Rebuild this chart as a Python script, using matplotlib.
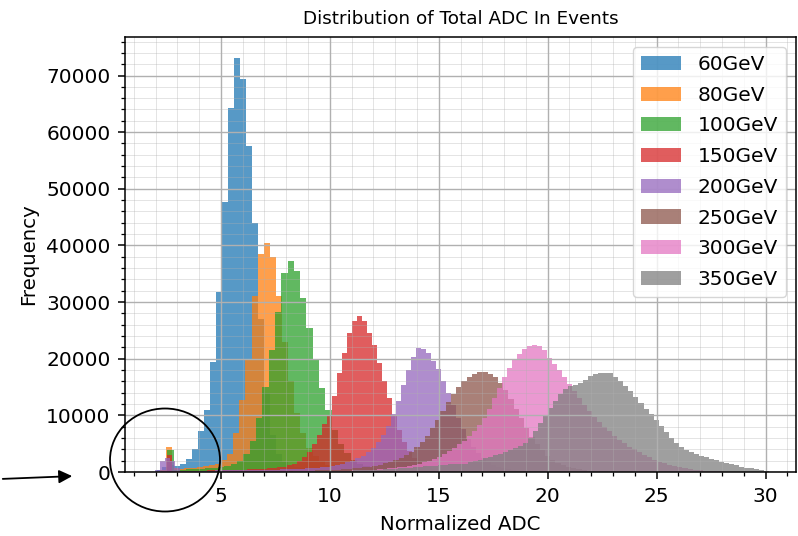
import matplotlib
matplotlib.use("Agg")
import matplotlib.pyplot as plt
from matplotlib.patches import Ellipse
import numpy as np

# Binned event counts of normalized total ADC per beam energy.
# Each series: first bin edge, bin width, counts per bin.
labels = ["60GeV", "80GeV", "100GeV", "150GeV", "200GeV", "250GeV", "300GeV", "350GeV"]

start_60, width_60 = 2.045, 0.275
counts_60 = [400, 900, 1300, 1100, 1500, 2300, 4000, 7300, 11000, 19400, 31700, 47600,
             64300, 73100, 69300, 57500, 43900, 27000, 14000, 6500, 3200, 1800, 1200, 900,
             700, 550, 450, 350, 280, 220, 170, 130, 100, 80, 60, 40]

start_80, width_80 = 2.21, 0.28
counts_80 = [300, 4500, 700, 600, 650, 750, 850, 1000, 1200, 1500, 2100, 3200, 6900, 12800,
             19800, 31000, 38400, 40400, 38000, 31000, 23000, 16000, 10500, 6800, 4300, 2800,
             1900, 1300, 950, 700, 520, 400, 300, 220, 160, 110, 80]

start_100, width_100 = 2.26, 0.29
counts_100 = [200, 3800, 400, 400, 450, 500, 550, 650, 750, 900, 1100, 1400, 2000, 3200, 5500,
              9500, 15000, 21500, 28200, 35200, 37300, 35500, 30800, 25500, 19800, 14900, 11000,
              7500, 5000, 3300, 2200, 1500, 1000, 700, 500, 350, 250, 170, 120, 80]

start_150, width_150 = 2.28, 0.23
counts_150 = [150, 3000, 250, 200, 200, 220, 230, 250, 260, 280, 300, 320, 340, 360, 380, 400,
              430, 460, 500, 540, 590, 650, 720, 800, 950, 1150, 1450, 1900, 2600, 3600, 4900,
              6500, 8400, 10000, 13500, 17500, 21000, 24600, 26600, 27500, 26600, 24600, 22400,
              19300, 16000, 13000, 10000, 7500, 5300, 3700, 2500, 1700, 1150, 800, 550, 380,
              260, 180, 120, 80]

start_200, width_200 = 1.98, 0.23
counts_200 = [400, 1900, 2400, 1900, 700, 230, 230, 240, 240, 250, 250, 260, 270, 280, 290, 300,
              310, 320, 330, 340, 360, 380, 400, 420, 440, 470, 500, 530, 570, 610, 660, 720,
              790, 870, 970, 1100, 1250, 1450, 1700, 2000, 2400, 2900, 3500, 4300, 5300, 6600,
              8200, 10200, 12600, 15300, 18000, 20300, 21900, 21700, 21000, 19600, 18100, 16000,
              14000, 11800, 9600, 7600, 5900, 4500, 3400, 2500, 1800, 1300, 950, 700, 500, 350,
              250, 170, 120]

start_250, width_250 = 8.12, 0.24
counts_250 = [150, 170, 190, 210, 240, 270, 300, 340, 380, 430, 490, 560, 640, 730, 840, 970,
              1120, 1300, 1520, 1780, 2100, 2500, 3000, 3600, 4400, 5300, 6400, 7700, 9200, 10800,
              12400, 13700, 15000, 16000, 16700, 17300, 17600, 17600, 17300, 16800, 15800, 14500,
              12900, 11200, 9500, 7800, 6200, 4900, 3800, 2900, 2200, 1600, 1200, 900, 650, 480,
              350, 250, 180, 130, 90]

start_300, width_300 = 9.86, 0.23
counts_300 = [150, 170, 190, 210, 240, 270, 300, 340, 380, 430, 490, 560, 640, 730, 840, 960,
              1100, 1270, 1470, 1700, 1980, 2300, 2700, 3150, 3700, 4300, 5000, 5500, 6300, 7200,
              8300, 9600, 11200, 13000, 14900, 16800, 18400, 19800, 20900, 21700, 22300, 22500,
              22300, 21600, 20200, 19000, 18000, 16800, 15500, 14300, 13000, 11800, 10700, 9700,
              8800, 8000, 7200, 6400, 5700, 5100, 4500, 4000, 3500, 3000, 2600, 2200, 1850, 1550,
              1300, 1050, 850, 700, 550, 430, 330, 250, 180, 130, 90]

start_350, width_350 = 8.30, 0.23
counts_350 = [100, 110, 120, 130, 140, 150, 165, 180, 195, 210, 230, 250, 275, 300, 330, 360,
              400, 440, 490, 540, 600, 660, 720, 790, 860, 930, 1000, 1070, 1140, 1210, 1280,
              1340, 1400, 1450, 1500, 1700, 1950, 2200, 2450, 2700, 2950, 3200, 3500, 3800, 4150,
              4600, 5200, 6000, 7300, 8700, 10000, 11300, 12600, 13800, 14600, 15100, 15400,
              15800, 16300, 16900, 17300, 17500, 17500, 17400, 16800, 16000, 15200, 14300, 13300,
              12200, 11200, 10200, 9200, 8100, 7000, 6000, 5100, 4400, 3900, 3500, 3150, 2850,
              2600, 2350, 2100, 1850, 1600, 1380, 1170, 970, 790, 620, 460, 310, 170]

series = [
    (start_60, width_60, counts_60),
    (start_80, width_80, counts_80),
    (start_100, width_100, counts_100),
    (start_150, width_150, counts_150),
    (start_200, width_200, counts_200),
    (start_250, width_250, counts_250),
    (start_300, width_300, counts_300),
    (start_350, width_350, counts_350),
]

plt.rcParams["font.size"] = 14.5
plt.rcParams["axes.linewidth"] = 1.1

fig = plt.figure(figsize=(7.98, 5.36), dpi=100)
ax = fig.add_axes([125 / 798, 64 / 536, 671 / 798, 435 / 536])

for label, (start, width, counts) in zip(labels, series):
    counts = np.asarray(counts, dtype=float)
    edges = start + width * np.arange(len(counts) + 1)
    ax.hist(edges[:-1] + width / 2, bins=edges, weights=counts, alpha=0.75, label=label)

ax.set_xlim(0.6, 31.4)
ax.set_ylim(0, 76800)
ax.minorticks_on()
ax.tick_params(which="major", length=5, width=1.1, pad=5.5)
ax.tick_params(which="minor", length=2.8, width=0.9)
ax.grid(True, which="major", color="#b0b0b0", linewidth=1.0)
ax.grid(True, which="minor", color="#b0b0b0", linewidth=0.7, alpha=0.35)

ax.set_title("Distribution of Total ADC In Events", fontsize=13.2, pad=9)
ax.set_xlabel("Normalized ADC", fontsize=14.2, labelpad=7)
ax.set_ylabel("Frequency", fontsize=14.2, labelpad=6)
ax.legend(loc="upper right", fontsize=14.5, labelspacing=0.58)

# hand-drawn style highlight of the low-ADC spike
fig.add_artist(Ellipse((165 / 798, 1 - 460 / 536), 110 / 798, 103 / 536,
                       transform=fig.transFigure, fill=False, ec="black", lw=1.3))
ax.annotate("", xy=(75, 536 - 476), xytext=(0, 536 - 479),
            xycoords="figure pixels", textcoords="figure pixels",
            arrowprops=dict(arrowstyle="-|>", color="black", lw=1.3, mutation_scale=20))

fig.savefig("out.png", dpi=100)
